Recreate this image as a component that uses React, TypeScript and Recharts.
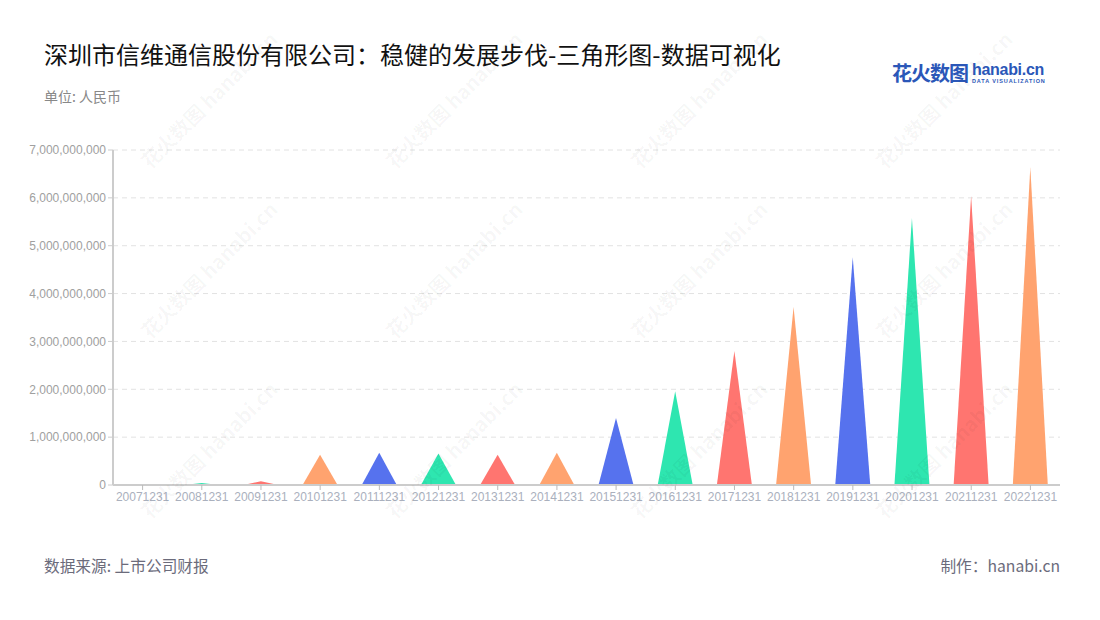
import { BarChart, Bar, XAxis, YAxis, CartesianGrid, Cell } from 'recharts';

// 营业收入 (人民币)
const years = [
  '20071231', '20081231', '20091231', '20101231', '20111231', '20121231', '20131231', '20141231',
  '20151231', '20161231', '20171231', '20181231', '20191231', '20201231', '20211231', '20221231',
];
const revenue = [
  20000000, 40000000, 80000000, 630000000, 675000000, 660000000, 630000000, 675000000,
  1400000000, 1960000000, 2800000000, 3720000000, 4760000000, 5580000000, 6040000000, 6640000000,
];
const yTicks = [0, 1000000000, 2000000000, 3000000000, 4000000000, 5000000000, 6000000000, 7000000000];
const palette = ['#5672ee', '#2ee6b0', '#ff7570', '#ffa36f'];

const data = years.map((year, i) => ({ year, value: revenue[i] }));

const cjk = '"Noto Sans CJK SC", "Noto Sans", sans-serif';
const latin = '"Liberation Sans", Arial, sans-serif';

function Triangle(props: any) {
  const { x, y, width, height, fill } = props;
  if (!height) return null;
  return <path d={`M${x},${y + height} L${x + width / 2},${y} L${x + width},${y + height} Z`} fill={fill} />;
}

function Watermarks() {
  const spots = [
    [150, 170], [395, 170], [640, 170], [885, 170],
    [150, 340], [395, 340], [640, 340], [885, 340],
    [150, 520], [395, 520], [640, 520], [885, 520],
  ];
  return (
    <svg width={1100} height={620} style={{ position: 'absolute', left: 0, top: 0, pointerEvents: 'none' }}>
      {spots.map(([x, y], i) => (
        <text
          key={i}
          x={x}
          y={y}
          transform={`rotate(-45 ${x} ${y})`}
          fontFamily={cjk}
          fontSize={20}
          fontWeight={700}
          fill="#000"
          fillOpacity={0.04}
        >
          花火数图 hanabi.cn
        </text>
      ))}
    </svg>
  );
}

export default function App() {
  return (
    <div style={{ position: 'absolute', left: 0, top: 0, width: 1100, height: 620, background: '#fff', overflow: 'hidden' }}>
      <div style={{ position: 'absolute', left: 44, top: 38, fontFamily: cjk, fontSize: 24, color: '#111', whiteSpace: 'nowrap', lineHeight: '32px' }}>
        深圳市信维通信股份有限公司：稳健的发展步伐-三角形图-数据可视化
      </div>
      <div style={{ position: 'absolute', left: 44, top: 86, fontFamily: cjk, fontSize: 14, color: '#888', lineHeight: '20px' }}>
        单位: 人民币
      </div>

      {/* logo */}
      <div style={{ position: 'absolute', left: 892, top: 60, display: 'flex', alignItems: 'center', color: '#2b57b8' }}>
        <span style={{ fontFamily: cjk, fontSize: 20, fontWeight: 700, letterSpacing: -1, lineHeight: '26px' }}>花火数图</span>
        <div style={{ marginLeft: 4, display: 'flex', flexDirection: 'column' }}>
          <span style={{ fontFamily: latin, fontSize: 16, fontWeight: 700, lineHeight: '16px', letterSpacing: -0.3 }}>hanabi.cn</span>
          <span style={{ fontFamily: latin, fontSize: 5.5, fontWeight: 700, lineHeight: '7px', letterSpacing: 0.9 }}>DATA VISUALIZATION</span>
        </div>
      </div>

      <div style={{ position: 'absolute', left: 0, top: 0 }}>
        <BarChart width={1100} height={620} data={data} margin={{ top: 150, right: 40, bottom: 105, left: 13 }}>
          <CartesianGrid vertical={false} stroke="#e2e2e2" strokeDasharray="5 4" />
          <XAxis
            dataKey="year"
            interval={0}
            height={30}
            axisLine={{ stroke: '#cccccc', strokeWidth: 2 }}
            tickLine={{ stroke: '#bbbbbb' }}
            tickSize={5}
            tick={{ fontSize: 12, fill: '#aab0bd', fontFamily: latin }}
          />
          <YAxis
            width={100}
            domain={[0, 7000000000]}
            ticks={yTicks}
            interval={0}
            axisLine={{ stroke: '#cccccc', strokeWidth: 2 }}
            tickLine={{ stroke: '#cccccc' }}
            tickSize={5}
            tickFormatter={(v: number) => v.toLocaleString('en-US')}
            tick={{ fontSize: 12, fill: '#a0a0a0', fontFamily: latin }}
          />
          <Bar dataKey="value" barSize={35} shape={<Triangle />} isAnimationActive={false}>
            {data.map((d, i) => (
              <Cell key={d.year} fill={palette[i % palette.length]} />
            ))}
          </Bar>
        </BarChart>
      </div>

      <Watermarks />

      <div style={{ position: 'absolute', left: 44, top: 555, fontFamily: cjk, fontSize: 15.7, color: '#6b6b7b', lineHeight: '22px' }}>
        数据来源: 上市公司财报
      </div>
      <div style={{ position: 'absolute', right: 40, top: 555, fontFamily: cjk, fontSize: 15.7, color: '#6b6b7b', lineHeight: '22px' }}>
        制作：hanabi.cn
      </div>
    </div>
  );
}
